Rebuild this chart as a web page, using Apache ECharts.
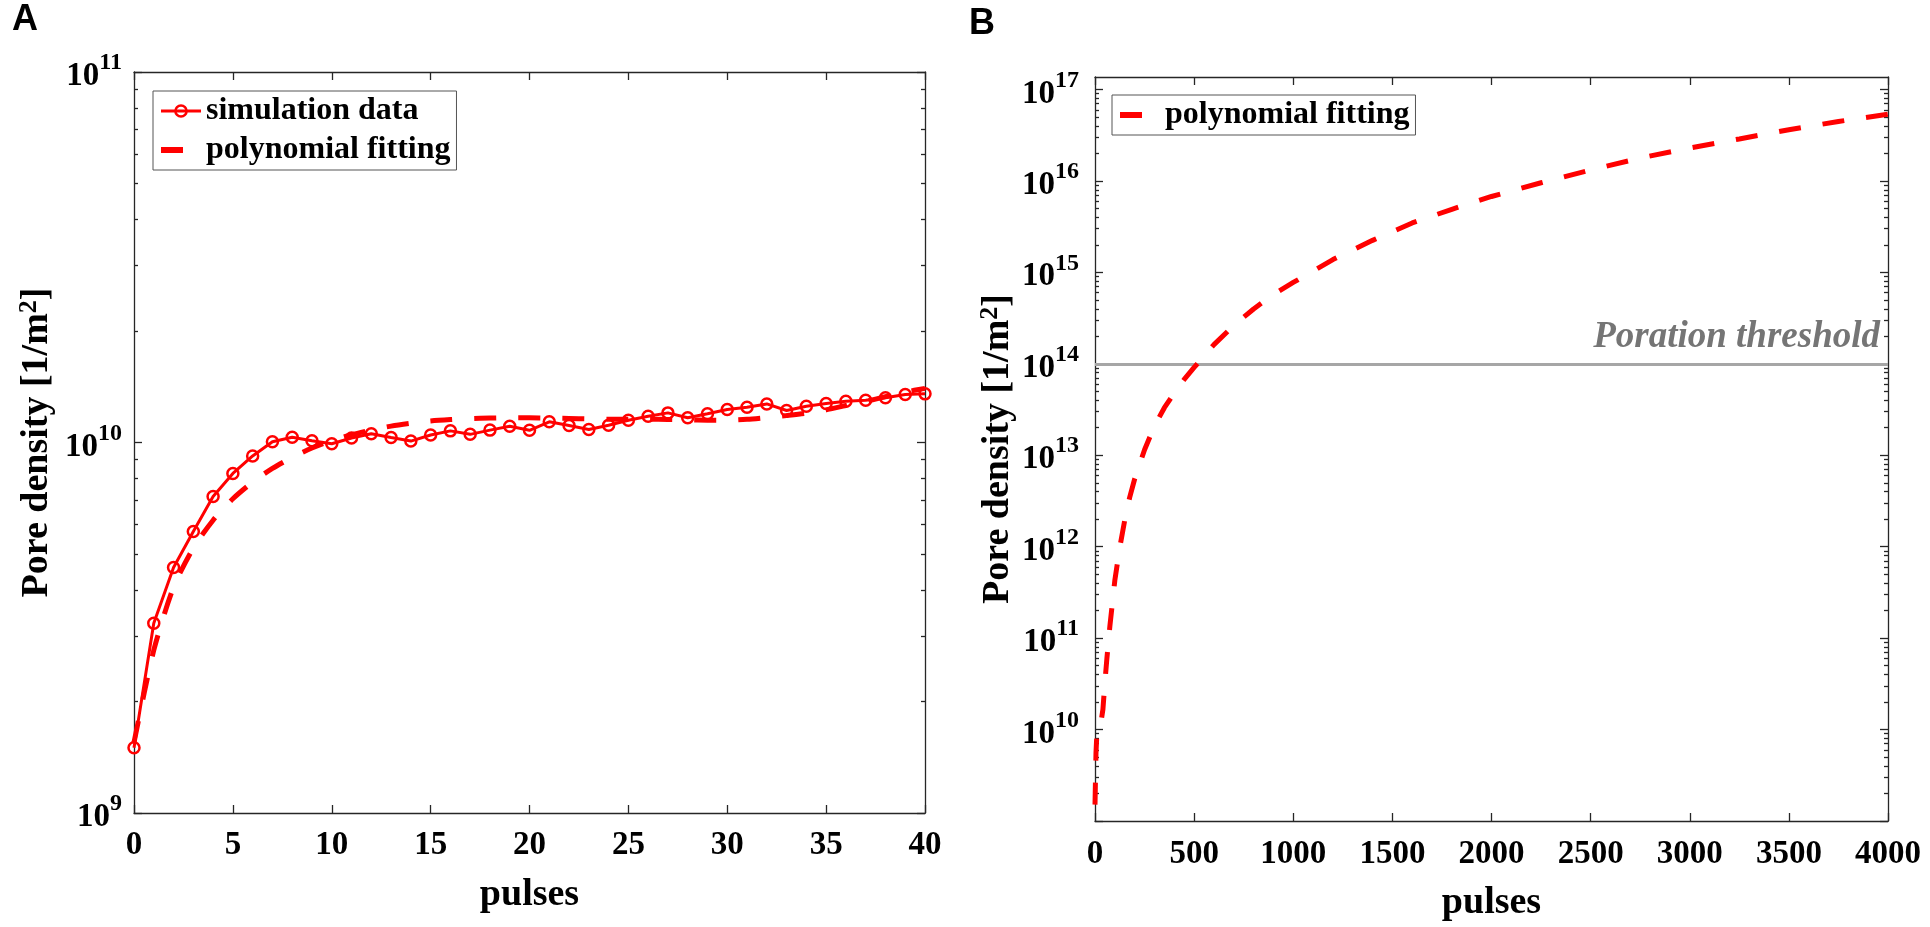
<!DOCTYPE html>
<html>
<head>
<meta charset="utf-8">
<script src="https://cdn.jsdelivr.net/npm/echarts@6/dist/echarts.min.js"></script>
<style>
html,body{margin:0;padding:0;background:#ffffff;}
#c{width:1930px;height:927px;}
</style>
</head>
<body>
<div id="c"></div>
<script>
// ---------- Data ----------
// Panel A: pulses 0..40
const pulsesA = [0,1,2,3,4,5,6,7,8,9,10,11,12,13,14,15,16,17,18,19,20,21,22,23,24,25,26,27,28,29,30,31,32,33,34,35,36,37,38,39,40];
const simulationData = [
  1.50e9, 3.25e9, 4.60e9, 5.75e9, 7.15e9, 8.25e9, 9.20e9, 1.005e10, 1.033e10, 1.011e10,
  0.992e10, 1.028e10, 1.056e10, 1.031e10, 1.009e10, 1.048e10, 1.075e10, 1.052e10, 1.080e10, 1.106e10,
  1.079e10, 1.137e10, 1.111e10, 1.084e10, 1.113e10, 1.148e10, 1.177e10, 1.202e10, 1.166e10, 1.195e10,
  1.227e10, 1.245e10, 1.271e10, 1.220e10, 1.253e10, 1.274e10, 1.292e10, 1.300e10, 1.320e10, 1.347e10,
  1.353e10
];
const fitA = [
  1.55e9, 2.75e9, 4.07e9, 5.19e9, 6.17e9, 7.05e9, 7.82e9, 8.51e9, 9.12e9, 9.66e9,
  1.012e10, 1.050e10, 1.081e10, 1.107e10, 1.127e10, 1.143e10, 1.153e10, 1.160e10, 1.164e10, 1.166e10,
  1.166e10, 1.164e10, 1.161e10, 1.158e10, 1.156e10, 1.156e10, 1.156e10, 1.154e10, 1.151e10, 1.149e10,
  1.149e10, 1.155e10, 1.168e10, 1.183e10, 1.200e10, 1.225e10, 1.258e10, 1.290e10, 1.330e10, 1.368e10,
  1.400e10
];
// Panel B: pulses 0..4000
const pulsesB = [0,5,10,20,30,40,50,60,75,100,125,150,175,200,250,300,350,400,450,500,600,700,800,900,1000,1200,1400,1600,1800,2000,2250,2500,2750,3000,3250,3500,3750,4000];
const fitB = [
  1.51e9, 5.6e9, 9.5e9, 1.12e10, 1.20e10, 1.66e10, 3.3e10, 6.0e10, 1.35e11, 4.27e11,
  9.8e11, 1.95e12, 3.47e12, 5.5e12, 1.15e13, 2.09e13, 3.31e13, 4.79e13, 6.76e13, 9.12e13,
  1.62e14, 2.63e14, 3.98e14, 5.75e14, 7.76e14, 1.38e15, 2.24e15, 3.47e15, 4.9e15, 6.76e15,
  9.55e15, 1.32e16, 1.78e16, 2.29e16, 2.88e16, 3.63e16, 4.47e16, 5.37e16
];
const thresholdValue = 1e14;
const thresholdLabel = 'Poration threshold';

// Axis tick labels
const yLabelsA = [1e9, 1e10, 1e11];
const yLabelsB = [1e10, 1e11, 1e12, 1e13, 1e14, 1e15, 1e16, 1e17];
const yMajorA = [1e9, 1e10, 1e11];
const yMajorB = [1e9, 1e10, 1e11, 1e12, 1e13, 1e14, 1e15, 1e16, 1e17];
const xRangeA = [0, 40, 5];
const xRangeB = [0, 4000, 500];
const yRangeA = [1e9, 1e11];
const yRangeB = [1e9, 1.37e17];

// ---------- Styling ----------
const FONT = "'Liberation Serif','Times New Roman',serif";
const AXIS_COLOR = '#262626';
const RED = '#ff0000';
const DASH = [22, 22];

function minorTicks(loExp, hiExp) {
  const out = [];
  for (let e = loExp; e < hiExp; e++) {
    for (let m = 2; m <= 9; m++) out.push(m * Math.pow(10, e));
  }
  return out;
}
function powLabel(v) {
  const e = Math.round(Math.log10(v));
  return '{b|10}{s|' + e + '}';
}
const labelRich = {
  b: {fontFamily: FONT, fontWeight: 'bold', fontSize: 33, color: '#000', verticalAlign: 'bottom'},
  s: {fontFamily: FONT, fontWeight: 'bold', fontSize: 24, color: '#000', verticalAlign: 'bottom', padding: [0, 0, 18, 0]}
};
const lineSty = {color: AXIS_COLOR, width: 1.3};

function yAxis(grid, pos, range, ticks, len, extra) {
  return Object.assign({
    type: 'log', logBase: 10, gridIndex: grid, position: pos,
    min: range[0], max: range[1],
    axisLine: {show: true, lineStyle: lineSty},
    axisTick: {show: true, inside: true, length: len, customValues: ticks, lineStyle: lineSty},
    axisLabel: {show: false},
    splitLine: {show: false},
    minorTick: {show: false}
  }, extra || {});
}
function xAxis(grid, pos, range, extra) {
  return Object.assign({
    type: 'value', gridIndex: grid, position: pos,
    min: range[0], max: range[1], interval: range[2],
    axisLine: {show: true, onZero: false, lineStyle: lineSty},
    axisTick: {show: true, inside: true, length: 8, lineStyle: lineSty},
    axisLabel: {show: false},
    splitLine: {show: false}
  }, extra || {});
}
const xLabelStyle = {show: true, fontFamily: FONT, fontWeight: 'bold', fontSize: 33, color: '#000', margin: 16,
  formatter: v => String(v)};
const xNameStyle = {fontFamily: FONT, fontWeight: 'bold', fontSize: 38, color: '#000'};
const yNameStyle = {
  fontFamily: FONT, fontWeight: 'bold', fontSize: 38, color: '#000',
  rich: {s: {fontFamily: FONT, fontWeight: 'bold', fontSize: 26, color: '#000', verticalAlign: 'bottom', padding: [0, 0, 16, 0]}}
};
const yName = 'Pore density [1/m{s|2}]';
const legendText = {fontFamily: FONT, fontWeight: 'bold', fontSize: 32, color: '#000', lineHeight: 36};
const simLegendItem = {name: 'simulation data', lineStyle: {width: 3, color: RED}, itemStyle: {borderWidth: 2.5}};
const fitLegendItem = {name: 'polynomial fitting', itemStyle: {opacity: 0}, lineStyle: {width: 6, type: DASH, color: RED}};

const chart = echarts.init(document.getElementById('c'), null, {renderer: 'canvas'});
const option = {
  animation: false,
  backgroundColor: '#ffffff',
  grid: [
    {left: 134, top: 72, width: 791, height: 741, containLabel: false},
    {left: 1095, top: 77, width: 793, height: 747, containLabel: false}
  ],
  xAxis: [
    xAxis(0, 'bottom', xRangeA, {axisLabel: xLabelStyle, name: 'pulses', nameLocation: 'middle', nameGap: 63, nameTextStyle: xNameStyle}),
    xAxis(0, 'top', xRangeA),
    xAxis(1, 'bottom', xRangeB, {axisLabel: Object.assign({}, xLabelStyle, {margin: 17}), name: 'pulses', nameLocation: 'middle', nameGap: 63, nameTextStyle: xNameStyle}),
    xAxis(1, 'top', xRangeB)
  ],
  yAxis: [
    yAxis(0, 'left', yRangeA, yMajorA, 8, {
      axisLabel: {show: true, customValues: yLabelsA, formatter: powLabel, rich: labelRich, margin: 12},
      name: yName, nameLocation: 'middle', nameGap: 76, nameTextStyle: yNameStyle
    }),
    yAxis(0, 'left', yRangeA, minorTicks(9, 11), 4, {axisLine: {show: false}}),
    yAxis(0, 'right', yRangeA, yMajorA, 8),
    yAxis(0, 'right', yRangeA, minorTicks(9, 11), 4, {axisLine: {show: false}}),
    yAxis(1, 'left', yRangeB, yMajorB, 8, {
      axisLabel: {show: true, customValues: yLabelsB, formatter: powLabel, rich: labelRich, margin: 16},
      name: yName, nameLocation: 'middle', nameGap: 76, nameTextStyle: yNameStyle
    }),
    yAxis(1, 'left', yRangeB, minorTicks(9, 17), 4, {axisLine: {show: false}}),
    yAxis(1, 'right', yRangeB, yMajorB, 8),
    yAxis(1, 'right', yRangeB, minorTicks(9, 17), 4, {axisLine: {show: false}})
  ],
  legend: [
    {
      left: 153, top: 91, orient: 'vertical',
      data: [simLegendItem, fitLegendItem],
      itemWidth: 40, itemHeight: 14, itemGap: 3,
      padding: [2, 6, 2, 5],
      borderColor: '#555', borderWidth: 1, backgroundColor: '#fff',
      textStyle: legendText,
      selectedMode: false
    },
    {
      left: 1112, top: 95, orient: 'vertical',
      data: [fitLegendItem],
      itemWidth: 40, itemHeight: 14, itemGap: 3,
      padding: [2, 6, 2, 5],
      borderColor: '#555', borderWidth: 1, backgroundColor: '#fff',
      textStyle: legendText,
      selectedMode: false
    }
  ],
  series: [
    {
      type: 'line', name: 'polynomial fitting', xAxisIndex: 0, yAxisIndex: 0,
      data: pulsesA.map((p, i) => [p, fitA[i]]),
      symbol: 'none', showSymbol: false, smooth: 0.25,
      lineStyle: {color: RED, width: 5, type: DASH},
      itemStyle: {color: RED}, z: 2
    },
    {
      type: 'line', name: 'simulation data', xAxisIndex: 0, yAxisIndex: 0,
      data: pulsesA.map((p, i) => [p, simulationData[i]]),
      symbol: 'circle', symbolSize: 11, showSymbol: true,
      lineStyle: {color: RED, width: 3},
      itemStyle: {color: 'rgba(255,255,255,0)', borderColor: RED, borderWidth: 2.5},
      z: 3
    },
    {
      type: 'line', name: 'polynomial fitting', xAxisIndex: 2, yAxisIndex: 4,
      data: pulsesB.map((p, i) => [p, fitB[i]]),
      symbol: 'none', showSymbol: false, smooth: false,
      lineStyle: {color: RED, width: 5, type: DASH},
      itemStyle: {color: RED}, z: 3,
      markLine: {
        silent: true, symbol: ['none', 'none'], animation: false, z: 2,
        lineStyle: {color: '#a6a6a6', width: 3, type: 'solid'},
        label: {
          show: true, position: 'insideEndTop', formatter: thresholdLabel,
          fontFamily: FONT, fontStyle: 'italic', fontWeight: 'bold', fontSize: 37,
          color: '#757575', distance: 8
        },
        emphasis: {disabled: true},
        data: [{yAxis: thresholdValue}]
      }
    }
  ],
  graphic: [
    {type: 'text', left: 12, top: 2, style: {text: 'A', font: 'bold 36px "Liberation Sans", Arial, sans-serif', fill: '#000'}},
    {type: 'text', left: 969, top: 6, style: {text: 'B', font: 'bold 36px "Liberation Sans", Arial, sans-serif', fill: '#000'}}
  ]
};
chart.setOption(option);
</script>
</body>
</html>
